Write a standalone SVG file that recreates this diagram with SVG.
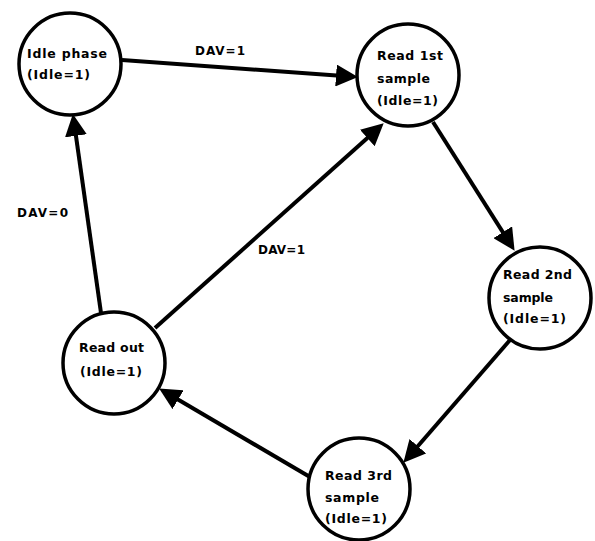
<svg xmlns="http://www.w3.org/2000/svg" width="595" height="541" viewBox="0 0 595 541">
<style>
.node{fill:#fff;stroke:#000;stroke-width:3.5}
.t{font-family:"DejaVu Sans","Liberation Sans",sans-serif;font-size:12.5px;fill:#000;font-weight:bold}
.lbl{font-family:"DejaVu Sans","Liberation Sans",sans-serif;font-size:12px;fill:#000;font-weight:bold}
.edge{stroke:#000;stroke-width:4;fill:none;marker-end:url(#ah)}
</style>
<defs>
<marker id="ah" markerUnits="userSpaceOnUse" markerWidth="22" markerHeight="22" refX="10" refY="10" orient="auto" viewBox="0 0 20 20">
<path d="M0,0 L20,10 L0,20 z" fill="#000"/>
</marker>
</defs>
<rect width="595" height="541" fill="#fff"/>
<g id="connectors">
<line class="edge" x1="122" y1="60" x2="347" y2="76.3"/>
<line class="edge" x1="101" y1="313" x2="74.4" y2="124.9"/>
<line class="edge" x1="155" y1="328" x2="375.5" y2="130.7"/>
<line class="edge" x1="433" y1="122" x2="508.7" y2="241.5"/>
<line class="edge" x1="510" y1="340" x2="410.6" y2="454.5"/>
<line class="edge" x1="310" y1="477" x2="168.6" y2="394.1"/>
<text class="lbl" x="195" y="55" textLength="50" lengthAdjust="spacing">DAV=1</text>
<text class="lbl" x="17" y="217" textLength="51" lengthAdjust="spacing">DAV=0</text>
<text class="lbl" x="258" y="254" textLength="47" lengthAdjust="spacing">DAV=1</text>
</g>
<g id="idle">
<circle class="node" cx="70" cy="64" r="51"/>
<text class="t" x="27" y="58" textLength="80" lengthAdjust="spacing">Idle phase</text>
<text class="t" x="27" y="79" textLength="63" lengthAdjust="spacing">(Idle=1)</text>
</g>
<g id="read1">
<circle class="node" cx="408" cy="75" r="51"/>
<text class="t" x="377" y="60" textLength="66" lengthAdjust="spacing">Read 1st</text>
<text class="t" x="377" y="83" textLength="53" lengthAdjust="spacing">sample</text>
<text class="t" x="377" y="105" textLength="61" lengthAdjust="spacing">(Idle=1)</text>
</g>
<g id="read2">
<circle class="node" cx="540" cy="298" r="51"/>
<text class="t" x="503" y="279" textLength="69" lengthAdjust="spacing">Read 2nd</text>
<text class="t" x="503" y="302" textLength="50" lengthAdjust="spacing">sample</text>
<text class="t" x="503" y="323" textLength="63" lengthAdjust="spacing">(Idle=1)</text>
</g>
<g id="read3">
<circle class="node" cx="359" cy="489" r="51"/>
<text class="t" x="325" y="480" textLength="67" lengthAdjust="spacing">Read 3rd</text>
<text class="t" x="325" y="502" textLength="54" lengthAdjust="spacing">sample</text>
<text class="t" x="325" y="523" textLength="62" lengthAdjust="spacing">(Idle=1)</text>
</g>
<g id="readout">
<circle class="node" cx="114" cy="363" r="51"/>
<text class="t" x="79" y="352" textLength="65" lengthAdjust="spacing">Read out</text>
<text class="t" x="80" y="376" textLength="62" lengthAdjust="spacing">(Idle=1)</text>
</g>
</svg>
